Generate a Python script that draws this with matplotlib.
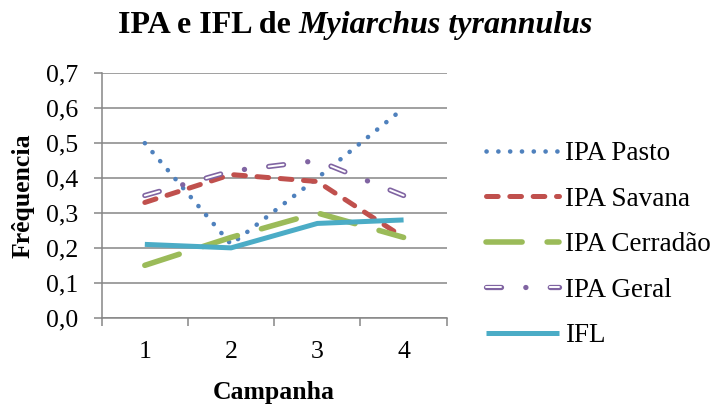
import matplotlib
matplotlib.use('Agg')
import matplotlib.pyplot as plt

plt.rcParams['font.family'] = ['Liberation Serif', 'DejaVu Serif']
plt.rcParams['lines.scale_dashes'] = False

# dados
campanhas = [1, 2, 3, 4]
ipa_pasto = [0.50, 0.21, 0.40, 0.60]
ipa_savana = [0.33, 0.41, 0.39, 0.23]
ipa_cerradao = [0.15, 0.23, 0.30, 0.23]
ipa_geral = [0.35, 0.42, 0.45, 0.35]
ifl = [0.21, 0.20, 0.27, 0.28]
yticks = [0.0, 0.1, 0.2, 0.3, 0.4, 0.5, 0.6, 0.7]
ytick_labels = ['0,0', '0,1', '0,2', '0,3', '0,4', '0,5', '0,6', '0,7']

W, H = 717, 407
fig = plt.figure(figsize=(W / 100, H / 100), dpi=100)
ax = fig.add_axes([101.7 / W, 1 - 317.7 / H, 345 / W, 244.4 / H])

cinza = '#868686'

l1, = ax.plot(campanhas, ipa_pasto, color='#4F81BD', lw=3.3,
              dashes=(0.1, 8.4), dash_capstyle='round', label='IPA Pasto')
l2, = ax.plot(campanhas, ipa_savana, color='#C0504D', lw=3.6,
              dashes=(8.4, 8.4), dash_capstyle='round', label='IPA Savana')
l3, = ax.plot(campanhas, ipa_cerradao, color='#9BBB59', lw=4.0,
              dashes=(26, 18), dash_capstyle='round', label='IPA Cerradão')
l4a, = ax.plot(campanhas, ipa_geral, color='#8064A2', lw=3.8,
               dashes=(10.8, 17.5, 0.1, 17.5), dash_capstyle='round')
l4b, = ax.plot(campanhas, ipa_geral, color='white', lw=1.4,
               dashes=(10.8, 35.1), dash_capstyle='round')
l5, = ax.plot(campanhas, ifl, color='#4BACC6', lw=3.6,
              solid_capstyle='butt', solid_joinstyle='round', label='IFL')

ax.set_xlim(0.5, 4.5)
ax.set_ylim(0, 0.7)
ax.set_yticks(yticks)
ax.set_yticklabels(ytick_labels)
ax.set_xticks([0.5, 1.5, 2.5, 3.5, 4.5])
ax.set_xticklabels([])
ax.set_xticks(campanhas, minor=True)
ax.set_xticklabels([str(c) for c in campanhas], minor=True)
ax.tick_params(axis='x', which='major', direction='out', length=5.8,
               width=1.1, color=cinza)
ax.tick_params(axis='x', which='minor', length=0, pad=17, labelsize=18.5)
ax.tick_params(axis='y', direction='out', length=5.8, width=1.1,
               color=cinza, pad=11, labelsize=18.5)
ax.grid(axis='y', color=cinza, lw=1.1)
ax.set_axisbelow(True)
for s in ['top', 'right']:
    ax.spines[s].set_visible(False)
for s in ['left', 'bottom']:
    ax.spines[s].set_color(cinza)
    ax.spines[s].set_linewidth(1.1)

fig.text(23 / W, 1 - 195.5 / H, 'Frêquencia', rotation=90, ha='center',
         va='center', fontsize=18.5, fontweight='bold')
fig.text(274 / W, 1 - 392 / H, 'Campanha', ha='center', va='center',
         fontsize=18.5, fontweight='bold')

# título com parte em itálico
t1 = fig.text(0, 1 - 33 / H, 'IPA e IFL de ', fontsize=23,
              fontweight='bold', va='baseline')
t2 = fig.text(0, 1 - 33 / H, 'Myiarchus tyrannulus', fontsize=23,
              fontweight='bold', style='italic', va='baseline')
fig.canvas.draw()
r = fig.canvas.get_renderer()
w1 = t1.get_window_extent(r).width
w2 = t2.get_window_extent(r).width
x0 = (W - w1 - w2) / 2 - 3
t1.set_x(x0 / W)
t2.set_x((x0 + w1) / W)

fig.legend([l1, l2, l3, (l4a, l4b), l5],
           ['IPA Pasto', 'IPA Savana', 'IPA Cerradão', 'IPA Geral', 'IFL'],
           loc='upper left', bbox_to_anchor=(486 / W, 1 - 141 / H),
           frameon=False, fontsize=19.5, handlelength=2.7, handletextpad=0.22,
           labelspacing=0.76, borderpad=0, borderaxespad=0)

fig.savefig('out.png', dpi=100)
